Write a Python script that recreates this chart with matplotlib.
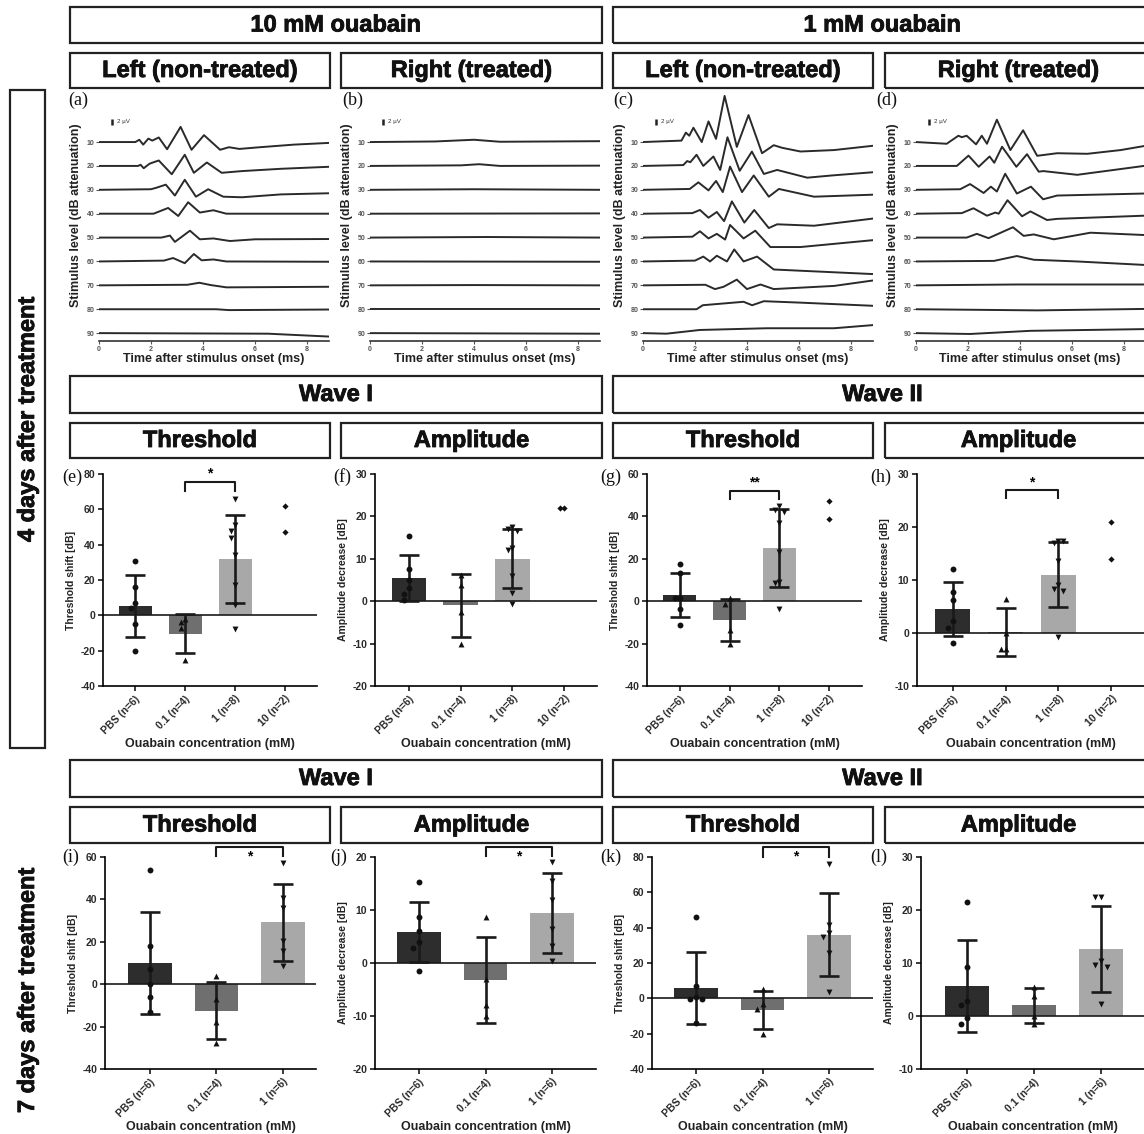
import numpy as np
import matplotlib

matplotlib.use("Agg")
import matplotlib.pyplot as plt
import matplotlib.patheffects as pe
from matplotlib.patches import Rectangle

W, H = 1144, 1134
plt.rcParams["font.family"] = ["Liberation Sans", "DejaVu Sans"]
plt.rcParams["axes.linewidth"] = 1.2
plt.rcParams["axes.unicode_minus"] = False

# ---------------- data ----------------
LEVELS = [10, 20, 30, 40, 50, 60, 70, 80, 90]
UV_SCALE = 1.2  # dB-axis units per microvolt

# ABR traces, (time ms, amplitude uV) read at the turning points
abr_a = [
    [(0, 0), (1.4, 0), (1.55, 0.8), (1.7, -0.9), (1.9, 1.2), (2.05, 0.5), (2.3, 1.6), (2.62, -2.5), (3.14, 5.3),
     (3.56, -2.7), (4.04, 2.4), (4.66, -2.7), (5.0, -1.8), (5.4, -2.4), (6.2, -1.8), (7.5, -0.9), (8.85, -0.3)],
    [(0, 0), (1.5, 0), (1.6, 0.4), (1.72, -0.8), (1.95, 0.8), (2.3, 1.9), (2.8, -2.9), (3.3, 3.9), (3.65, -2.4),
     (4.15, 1.2), (4.72, -2.4), (5.5, -1.8), (7.0, -1.0), (8.85, -0.3)],
    [(0, 0), (2.0, 0.2), (2.2, 0.7), (2.57, 1.8), (2.92, -2.0), (3.3, 3.5), (3.73, -2.4), (4.2, 0.2), (4.78, -2.4),
     (5.5, -2.6), (7.0, -1.6), (8.85, -1.2)],
    [(0, 0), (2.1, 0), (2.66, 2.0), (3.05, -0.8), (3.43, 4.0), (3.88, 0.4), (4.4, 1.2), (4.9, 0), (8.85, 0)],
    [(0, 0), (2.4, 0), (2.73, 0.7), (2.92, -1.5), (3.5, 2.4), (3.88, -0.6), (4.4, -0.3), (5.04, -1.2), (6.0, -0.6),
     (8.85, -0.5)],
    [(0, 0), (2.5, 0.3), (2.85, 1.2), (3.3, -0.6), (3.65, 2.6), (3.95, 0.4), (4.4, 0.7), (4.9, 0), (8.85, -0.1)],
    [(0, 0), (3.4, 0.2), (3.86, 0.9), (4.3, 0.1), (4.9, -0.7), (8.85, -0.5)],
    [(0, 0), (4.5, 0), (5.0, -0.3), (8.85, -0.1)],
    [(0, 0), (6.5, -0.2), (8.85, -1.2)],
]
abr_b = [
    [(0, 0), (2.5, 0.2), (4.0, 0.8), (5.0, 0.1), (8.85, 0.3)],
    [(0, 0), (3.5, 0.2), (4.2, 0.6), (5.0, 0), (8.85, 0.1)],
    [(0, 0), (4.0, 0.2), (8.85, 0)],
    [(0, 0), (8.85, 0.1)],
    [(0, 0), (4.5, 0.2), (8.85, 0)],
    [(0, 0), (8.85, -0.1)],
    [(0, 0), (4.0, 0.1), (8.85, 0)],
    [(0, 0), (8.85, 0)],
    [(0, 0), (8.85, -0.2)],
]
abr_c = [
    [(0, 0), (1.48, 0.5), (1.65, 3.3), (1.78, 2.2), (1.94, 5.0), (2.26, 0), (2.52, 7.2), (2.81, 1.1), (3.14, 16.1),
     (3.61, -1.7), (4.06, 9.4), (4.58, -3.9), (5.03, -1.1), (5.35, -2.0), (6.06, -3.3), (7.35, -2.8), (8.85, -1.3)],
    [(0, 0), (1.55, 0.3), (1.7, 1.7), (1.82, 1.3), (2.06, 3.9), (2.32, 0), (2.71, 3.3), (2.97, -1.4), (3.25, 10.0),
     (3.72, -1.7), (4.19, 5.0), (4.65, -2.8), (5.16, -1.4), (6.32, -4.1), (7.3, -3.3), (8.85, -2.2)],
    [(0, 0), (1.8, 0.3), (2.13, 2.6), (2.52, -0.2), (2.81, 3.1), (3.07, -0.8), (3.35, 8.1), (3.81, -0.8), (4.26, 5.0),
     (4.84, -2.4), (5.23, 0.3), (6.58, -2.4), (8.85, -1.7)],
    [(0, 0), (1.9, 0.2), (2.19, 1.3), (2.52, -1.4), (2.84, 0.6), (3.12, -2.6), (3.42, 4.3), (3.9, -3.1), (4.28, 1.3),
     (4.84, -5.0), (5.16, -3.7), (6.58, -4.2), (8.85, -1.7)],
    [(0, 0), (1.9, 0.3), (2.19, 2.2), (2.52, -0.3), (2.84, 1.3), (3.16, -0.7), (3.35, 4.4), (3.87, -0.3), (4.32, 2.4),
     (4.9, -3.3), (6.06, -3.3), (8.85, -0.9)],
    [(0, 0), (2.0, 0.3), (2.32, 1.7), (2.58, 0), (2.84, 2.0), (3.23, 0), (3.51, 4.2), (3.87, 0), (4.39, 1.7),
     (5.03, -2.8), (8.85, -4.4)],
    [(0, 0), (2.4, 0.2), (2.77, -1.3), (3.1, -0.5), (3.61, 2.0), (4.0, -1.3), (4.52, 0.3), (5.03, -1.3),
     (7.35, -0.2), (8.85, 1.7)],
    [(0, 0), (2.06, 0), (2.3, 1.4), (3.87, 2.6), (4.2, 1.4), (4.65, 2.8), (6.06, 2.3), (8.85, 1.2)],
    [(0, 0), (0.9, -0.2), (2.19, 1.1), (4.77, 1.7), (7.35, 1.7), (8.85, 2.8)],
]
abr_d = [
    [(0, 0), (1.18, -0.6), (1.63, 2.2), (1.76, 1.7), (1.95, 2.2), (2.31, -0.8), (2.53, 2.2), (2.73, -0.6),
     (3.11, 7.8), (3.63, -2.8), (4.12, 4.1), (4.66, -4.8), (5.43, -3.9), (6.59, -4.1), (7.87, -2.8), (8.77, -1.4)],
    [(0, 0), (1.57, 0), (2.02, 3.6), (2.41, -0.3), (2.83, 3.3), (3.01, 1.1), (3.31, 6.7), (3.86, -0.3), (4.27, 4.1),
     (4.72, -2.0), (4.9, -1.8), (6.2, -3.1), (8.77, 0)],
    [(0, 0), (1.7, 0.2), (2.08, 2.0), (2.6, -1.1), (2.88, 1.1), (3.11, -0.6), (3.43, 5.6), (3.88, -1.3), (4.42, 1.1),
     (4.89, -3.3), (5.43, -2.0), (8.77, -1.3)],
    [(0, 0), (1.76, 0.2), (2.21, 1.9), (2.73, -0.7), (3.05, 0.4), (3.18, 0), (3.52, 4.7), (4.08, -0.9), (4.4, 0.8),
     (5.04, -2.2), (5.43, -1.8), (8.77, -0.7)],
    [(0, 0), (1.95, 0), (2.34, 1.3), (2.79, -0.2), (3.73, 3.6), (4.14, 0.6), (4.53, 1.1), (5.3, -0.6), (6.71, 1.7),
     (8.77, 0.9)],
    [(0, 0), (3.0, 0.2), (3.88, 1.9), (4.53, 0.6), (6.2, 0), (8.77, -1.2)],
    [(0, 0), (3.88, 0.3), (8.77, 0.3)],
    [(0, 0), (4.66, -0.4), (8.77, 0.1)],
    [(0, 0), (2.08, -0.3), (4.4, 0.8), (8.77, 1.4)],
]

groups_4d = ["PBS (n=6)", "0.1 (n=4)", "1 (n=8)", "10 (n=2)"]
groups_7d = ["PBS (n=6)", "0.1 (n=4)", "1 (n=6)"]

# mean / SD bars and individual animals
e_mean, e_sd = [5.5, -10.5, 32], [17.5, 11, 25]
e_pts = [[31, 16, 7, 4, -5, -20], [-2, -4, -7, -25], [66, 51, 48, 44, 34, 17, 6, -8], [62, 47]]
f_mean, f_sd = [5.5, -1, 10], [5.5, 7.4, 7]
f_pts = [[15.3, 7.5, 5.0, 3.0, 1.7, 0.3], [6.2, 3.8, -2.6, -10], [17.5, 17, 16.5, 12.5, 12, 6, 2, -0.7], [22, 22]]
g_mean, g_sd = [3, -9, 25], [10.5, 10, 18.5]
g_pts = [[17.5, 13.5, 1.5, 1.5, -3.5, -11], [1.5, -1.5, -13.5, -20], [45, 43, 42, 37, 23, 9, 8.5, -3.5], [47.5, 39]]
h_mean, h_sd = [4.6, 0.2, 11], [5.1, 4.5, 6.1]
h_pts = [[12, 7.8, 6.3, 2.3, 1, -1.8], [6.5, 0, -3, -3], [17.3, 17, 17.3, 13.5, 9, 8.3, 8, -0.8], [21, 14]]

i_mean, i_sd = [10, -12.5, 29.3], [24, 13.5, 18.2]
i_pts = [[54, 18, 7, 0, -6, -13], [4, -7, -18, -27.5], [57, 40.5, 36, 20.5, 15.5, 8.5]]
j_mean, j_sd = [5.8, -3.2, 9.4], [5.7, 8.2, 7.6]
j_pts = [[15.2, 8.6, 6, 4, 2.8, -1.6], [8.6, -3, -8, -10], [19, 15.5, 11.8, 6.5, 3.2, 0.3]]
k_mean, k_sd = [6, -6.8, 36], [20.5, 10.8, 23.5]
k_pts = [[46, 7, 1, -0.5, -0.5, -14], [5.5, -3, -6, -20], [76, 41.5, 37, 35, 25.5, 3.5]]
l_mean, l_sd = [5.6, 2, 12.6], [8.7, 3.3, 8.1]
l_pts = [[21.5, 9.3, 2.8, 2, -0.3, -1.6], [5.5, 3.8, 0, -1.5], [22.5, 22.5, 10.3, 9.6, 9.3, 2.3]]

BAR_COLORS = ["#2d2d2d", "#6f6f6f", "#a8a8a8"]
MARKERS = ["o", "^", "v", "D"]

fig = plt.figure(figsize=(W / 100, H / 100), dpi=100)


def px_axes(left, top, right, bottom):
    return fig.add_axes([left / W, 1 - bottom / H, (right - left) / W, (bottom - top) / H])


def header(x0, y0, x1, y1, text, size=17, rotation=0, box=True):
    if box:
        fig.patches.append(Rectangle((x0 / W, 1 - y1 / H), (x1 - x0) / W, (y1 - y0) / H,
                                     transform=fig.transFigure, fill=False, lw=1.6, ec="#222222"))
    t = fig.text((x0 + x1) / 2 / W, 1 - (y0 + y1) / 2 / H, text, ha="center", va="center",
                 fontsize=size, fontweight="bold", rotation=rotation, color="#111111")
    # slightly heavier, like the black-weight font of the original
    t.set_path_effects([pe.withStroke(linewidth=0.6, foreground="#111111")])


def letter(x, y, s):
    fig.text(x / W, 1 - y / H, s, fontsize=13, family=["Liberation Serif", "DejaVu Serif"],
             ha="left", va="center", color="#111111")


def abr_panel(box, traces, tmax):
    ax = px_axes(*box)
    for lev, tr in zip(LEVELS, traces):
        t = [p[0] for p in tr]
        y = [lev - UV_SCALE * p[1] for p in tr]
        ax.plot(t, y, color="#2a2a2a", lw=1.4, solid_joinstyle="round")
    ax.set_xlim(0, tmax)
    ax.set_ylim(93.3, -12)
    for s in ["top", "right", "left"]:
        ax.spines[s].set_visible(False)
    ax.spines["bottom"].set_color("#333333")
    ax.set_yticks(LEVELS)
    ax.set_xticks([0, 2, 4, 6, 8])
    ax.tick_params(axis="both", labelsize=5, colors="#555555", length=2, width=0.8, pad=1.5)
    for lab in ax.get_xticklabels() + ax.get_yticklabels():
        lab.set_fontweight("bold")
    ax.set_xlabel("Time after stimulus onset (ms)", fontsize=9, fontweight="bold", color="#222222", labelpad=0)
    ax.set_ylabel("Stimulus level (dB attenuation)", fontsize=9, fontweight="bold", color="#222222", labelpad=3)
    # 2 uV scale bar
    ax.plot([0.5, 0.5], [10 - 8.1 * UV_SCALE, 10 - 6.1 * UV_SCALE], color="#222222", lw=1.8,
            solid_capstyle="butt")
    ax.text(0.68, 10 - 7.1 * UV_SCALE, "2 \u00b5V", fontsize=4.5, va="center", ha="left", color="#333333")
    return ax


def spread(vals, tol):
    offs = []
    steps = [0, -0.09, 0.09, -0.18, 0.18, -0.27, 0.27]
    for i, v in enumerate(vals):
        n = sum(1 for w in vals[:i] if abs(w - v) < tol)
        offs.append(steps[min(n, len(steps) - 1)])
    return offs


def bar_panel(box, xlim, ylim, yticks, ylabel, groups, means, sds, pts, bracket=None, star_below=False):
    ax = px_axes(*box)
    x = np.arange(len(means))
    ax.bar(x, means, width=0.66, color=BAR_COLORS[:len(means)], zorder=1)
    ax.axhline(0, color="#1a1a1a", lw=1.2, zorder=2)
    ax.errorbar(x, means, yerr=sds, fmt="none", ecolor="#1a1a1a", elinewidth=1.9, capsize=7.5,
                capthick=1.9, zorder=3)
    tol = 0.035 * (ylim[1] - ylim[0])
    for gi, vals in enumerate(pts):
        offs = spread(vals, tol)
        ax.scatter(gi + np.array(offs), vals, marker=MARKERS[gi], s=18 if gi < 3 else 10,
                   color="#111111", zorder=4, linewidths=0)
    ax.set_xlim(*xlim)
    ax.set_ylim(*ylim)
    ax.set_yticks(yticks)
    ax.set_xticks(np.arange(len(groups)))
    ax.set_xticklabels(groups, rotation=45, ha="right", rotation_mode="anchor")
    for s in ["top", "right"]:
        ax.spines[s].set_visible(False)
    ax.tick_params(axis="both", labelsize=7.5, colors="#1a1a1a", length=3.5, width=1.2, pad=2)
    for lab in ax.get_xticklabels() + ax.get_yticklabels():
        lab.set_fontweight("bold")
        lab.set_color("#2a2a2a")
    ax.set_ylabel(ylabel, fontsize=7.5, fontweight="bold", color="#222222", labelpad=3)
    ax.set_xlabel("Ouabain concentration (mM)", fontsize=9, fontweight="bold", color="#222222", labelpad=2)
    if bracket is not None:
        x1, x2, ytop, yarm, stars = bracket
        ax.plot([x1, x1, x2, x2], [yarm, ytop, ytop, yarm], color="#1a1a1a", lw=1.5, clip_on=False)
        if star_below:
            ax.text((x1 + x2) / 2, ytop - 0.01 * (ylim[1] - ylim[0]), stars, ha="center", va="top",
                    fontsize=10, fontweight="bold", clip_on=False)
        else:
            ax.text((x1 + x2) / 2, ytop + 0.005 * (ylim[1] - ylim[0]), stars, ha="center", va="bottom",
                    fontsize=10, fontweight="bold", clip_on=False)
    return ax


# ---------------- header boxes ----------------
header(70, 7, 602, 43, "10 mM ouabain")
header(613, 7, 1152, 43, "1 mM ouabain")
for x0, x1, txt in [(70, 330, "Left (non-treated)"), (341, 602, "Right (treated)"),
                    (613, 873, "Left (non-treated)"), (885, 1152, "Right (treated)")]:
    header(x0, 53, x1, 88, txt)
for y0, y1, y2, y3 in [(376, 413, 423, 458), (760, 797, 807, 843)]:
    header(70, y0, 602, y1, "Wave I")
    header(613, y0, 1152, y1, "Wave II")
    for x0, x1, txt in [(70, 330, "Threshold"), (341, 602, "Amplitude"),
                        (613, 873, "Threshold"), (885, 1152, "Amplitude")]:
        header(x0, y2, x1, y3, txt)
header(10, 90, 45, 748, "4 days after treatment", rotation=90)
header(10, 850, 45, 1130, "7 days after treatment", rotation=90, box=False)

# ---------------- ABR traces ----------------
abr_panel((99, 89.5, 329, 341), abr_a, 8.85)
abr_panel((370, 89.5, 600, 341), abr_b, 8.85)
abr_panel((643, 89.5, 873, 341), abr_c, 8.85)
abr_panel((916, 89.5, 1144, 341), abr_d, 8.77)
for x, s in [(68, "(a)"), (342, "(b)"), (613, "(c)"), (876, "(d)")]:
    letter(x, 100, s)

# ---------------- bar charts ----------------
TH = "Threshold shift [dB]"
AM = "Amplitude decrease [dB]"
bar_panel((103, 474, 317, 686), (-0.64, 3.64), (-40, 80), range(-40, 81, 20), TH, groups_4d,
          e_mean, e_sd, e_pts, bracket=(1, 2, 75.7, 70.6, "*"))
bar_panel((375, 474, 597, 686), (-0.65, 3.63), (-20, 30), range(-20, 31, 10), AM, groups_4d,
          f_mean, f_sd, f_pts)
bar_panel((647, 474, 862, 686), (-0.66, 3.66), (-40, 60), range(-40, 61, 20), TH, groups_4d,
          g_mean, g_sd, g_pts, bracket=(1, 2, 52, 48, "**"))
bar_panel((917, 474, 1144, 686), (-0.68, 3.62), (-10, 30), range(-10, 31, 10), AM, groups_4d,
          h_mean, h_sd, h_pts, bracket=(1, 2, 26.9, 25.4, "*"))

bar_panel((105, 857, 316, 1069), (-0.68, 2.5), (-40, 60), range(-40, 61, 20), TH, groups_7d,
          i_mean, i_sd, i_pts, bracket=(1, 2, 64.7, 60.5, "*"), star_below=True)
bar_panel((375, 857, 596, 1069), (-0.66, 2.66), (-20, 20), range(-20, 21, 10), AM, groups_7d,
          j_mean, j_sd, j_pts, bracket=(1, 2, 21.9, 20.1, "*"), star_below=True)
bar_panel((652, 857, 873, 1069), (-0.66, 2.66), (-40, 80), range(-40, 81, 20), TH, groups_7d,
          k_mean, k_sd, k_pts, bracket=(1, 2, 85.7, 80, "*"), star_below=True)
bar_panel((921, 857, 1144, 1069), (-0.69, 2.64), (-10, 30), range(-10, 31, 10), AM, groups_7d,
          l_mean, l_sd, l_pts)

for x, y, s in [(62, 477, "(e)"), (333, 477, "(f)"), (600, 477, "(g)"), (870, 477, "(h)"),
                (62, 857, "(i)"), (330, 857, "(j)"), (600, 857, "(k)"), (870, 857, "(l)")]:
    letter(x, y, s)

fig.savefig("out.png", dpi=100)
